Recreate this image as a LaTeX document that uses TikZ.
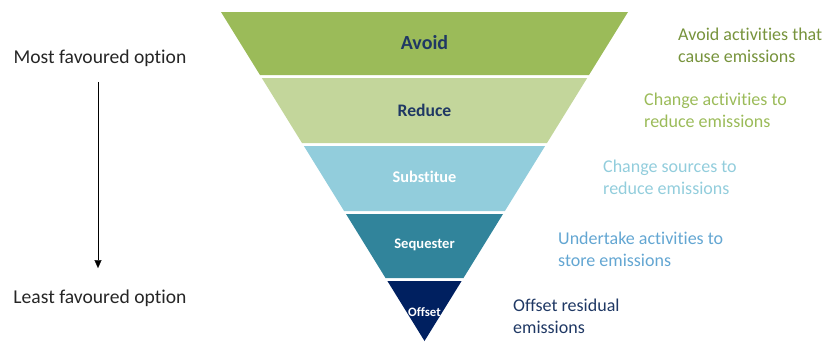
\documentclass[tikz,border=0pt]{standalone}
\usepackage{fontspec}
\setmainfont[Ligatures={NoCommon}]{Carlito}
\usetikzlibrary{arrows.meta}
\definecolor{avoidgreen}{HTML}{9BBB59}
\definecolor{reducegreen}{HTML}{C3D69B}
\definecolor{substblue}{HTML}{92CDDC}
\definecolor{seqteal}{HTML}{31849B}
\definecolor{offnavy}{HTML}{002060}
\definecolor{darkolive}{HTML}{77933C}
\definecolor{storeblue}{HTML}{63A6D2}
\definecolor{labelnavy}{HTML}{1F3864}
\definecolor{greytext}{HTML}{262626}
\tikzset{b/.style={font=\bfseries}}
\tikzset{r/.style={anchor=west,align=left,inner sep=0pt,font=\fontsize{18}{21.7}\selectfont}}
\tikzset{o/.style={text=greytext,font=\fontsize{19.6}{22}\selectfont}}

\begin{document}
\begin{tikzpicture}[x=1pt,y=-1pt]
      \useasboundingbox (0,0) rectangle (825,341);
      % funnel bands
      \fill[avoidgreen] (221,12) -- (628,12) -- (589,75) -- (260,75) -- cycle;
      \fill[reducegreen] (261.8,78) -- (587.2,78) -- (547,143) -- (302,143) -- cycle;
      \fill[substblue] (303.9,146) -- (545.1,146) -- (504.9,211) -- (344.1,211) -- cycle;
      \fill[seqteal] (346,214) -- (503,214) -- (463.5,278) -- (385.5,278) -- cycle;
      \fill[offnavy] (387.4,281) -- (461.6,281) -- (424.5,341) -- cycle;
      \node[b,text=labelnavy] (avoid) at (424.5,43) {\fontsize{20}{20}\selectfont Avoid};
      \node[b,text=labelnavy] (reduce) at (424.5,110) {\fontsize{17.6}{17.6}\selectfont Reduce};
      \node[b,text=white] (subst) at (424.5,177) {\fontsize{16.3}{16.3}\selectfont Substitue};
      \node[b,text=white] (seq) at (424.5,245) {\fontsize{14.6}{14.6}\selectfont Sequester};
      \node[b,text=white] (offset) at (424.5,312) {\fontsize{12.8}{12.8}\selectfont Offset};
      % descriptions
      \node[r,text=darkolive] (avoidtxt) at (678,45) {Avoid activities that\\cause emissions};
      \node[r,text=avoidgreen] (reducetxt) at (644,110) {Change activities to\\reduce emissions};
      \node[r,text=substblue] (substtxt) at (603,177.5) {Change sources to\\reduce emissions};
      \node[r,text=storeblue] (seqtxt) at (558,249) {Undertake activities to\\store emissions};
      \node[r,text=labelnavy] (offsettxt) at (513,316) {Offset residual\\emissions};
      % ranking
      \node[o] (most) at (100,58) {Most favoured option};
      \node[o] (least) at (100,298) {Least favoured option};
      \draw[-{Triangle[length=8pt,width=7pt]},shorten <=12pt,shorten >=18pt] (most.south -| 98,0) -- (least.north -| 98,0);
\end{tikzpicture}
\end{document}
